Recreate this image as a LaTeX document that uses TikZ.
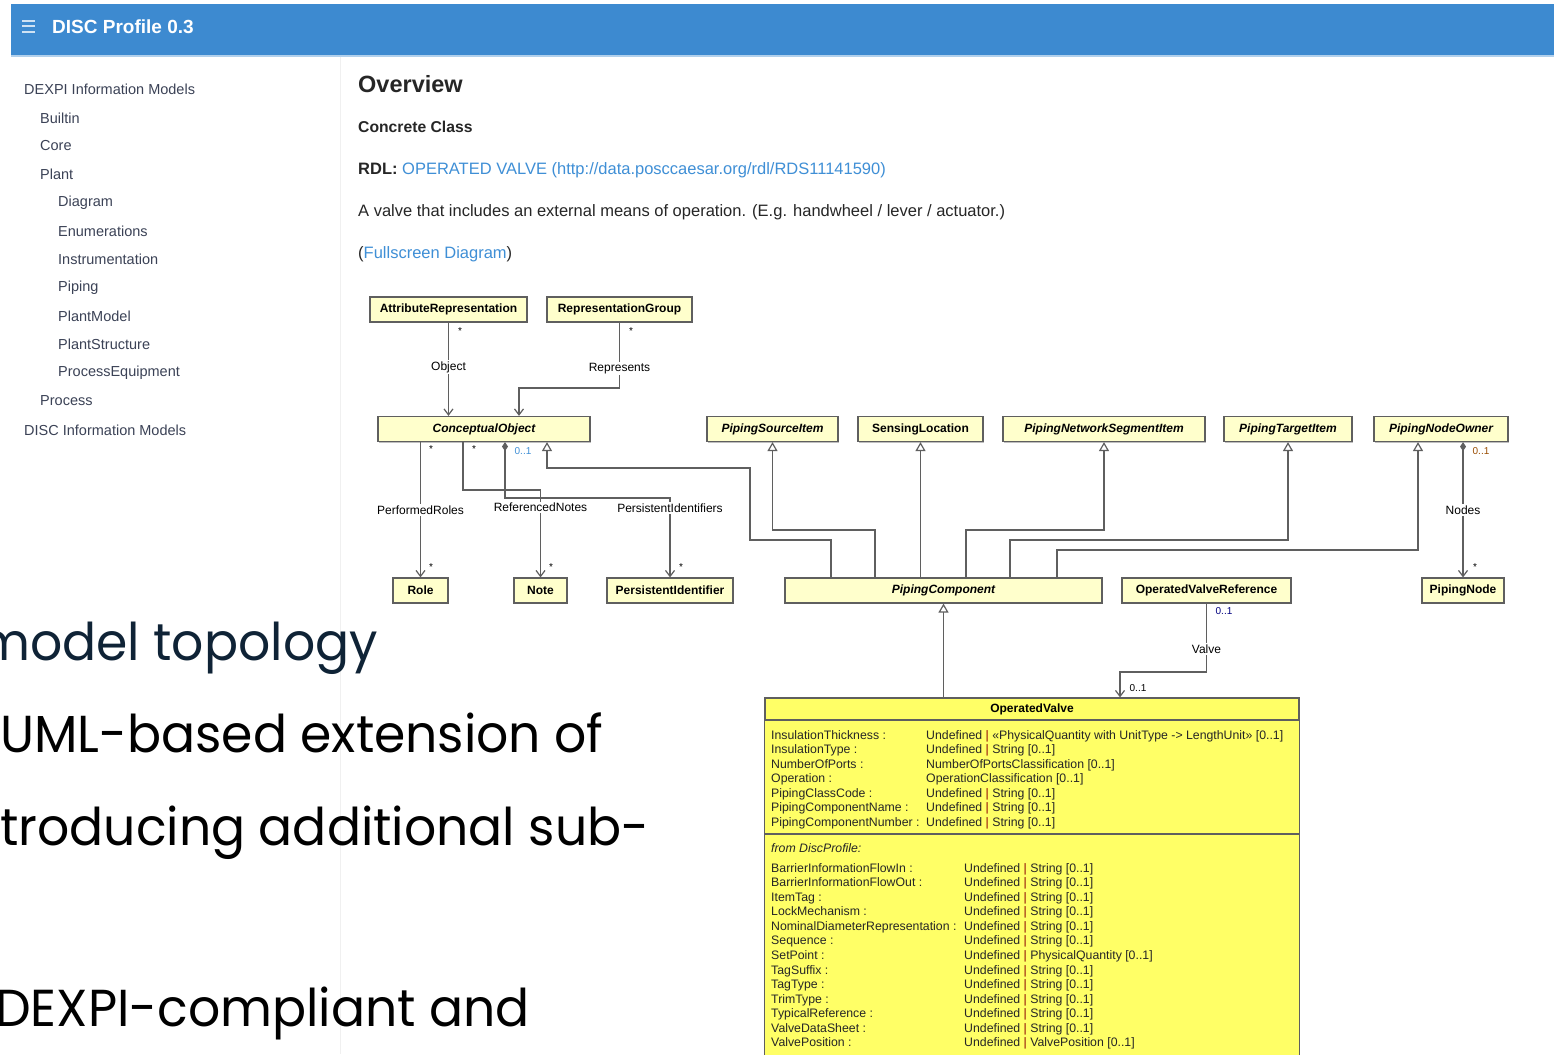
\documentclass[tikz,border=0pt]{standalone}
\usepackage{fontspec}
\setmainfont{Liberation Sans}
\newfontfamily\slidefont[FakeStretch=0.97]{Poppins}
\usetikzlibrary{arrows.meta, calc, shadows}

\definecolor{barblue}{HTML}{3D8AD0}
\definecolor{linkblue}{HTML}{3F8FD6}
\definecolor{navtext}{HTML}{3B4256}
\definecolor{umlpale}{HTML}{FFFFCC}
\definecolor{umlyellow}{HTML}{FFFF66}
\definecolor{umlline}{HTML}{5F5F5F}
\definecolor{slidenavy}{HTML}{0F2336}

\newcommand{\attrsep}{\textcolor{red!55!black}{|}}
\newcommand{\webfont}[1]{\fontsize{#1}{#1}\selectfont}

\tikzset{
  cls/.style={
    draw=umlline,
    fill=umlpale,
    line width=1.2pt,
    minimum height=25pt,
    inner sep=0pt,
    font=\webfont{12}\bfseries,
    drop shadow={shadow xshift=1.3pt, shadow yshift=-1.3pt, fill=black!50}},
  abstract/.style={cls, font=\webfont{12}\bfseries\itshape},
  assoc/.style={draw=umlline, line width=1.2pt, -{Straight Barb[length=6pt,width=9pt]}},
  comp/.style={assoc, {Diamond[length=9pt,width=6pt]}-{Straight Barb[length=6pt,width=9pt]}},
  gen/.style={draw=umlline, line width=1.2pt, -{Triangle[open,length=9pt,width=10pt,fill=white]}},
  rolename/.style={fill=white, inner sep=1.5pt, font=\webfont{12}},
  mult/.style={inner sep=1pt, font=\webfont{10}},
  navitem/.style={anchor=west, inner sep=0pt, text=navtext, font=\webfont{14.5}},
  textline/.style={anchor=west, inner sep=0pt, text=black!85, font=\webfont{16.5}},
  attr/.style={anchor=base west, inner sep=0pt, text=black!85, font=\webfont{12.3}},
  slide/.style={anchor=base west, inner sep=0pt, font=\slidefont\webfont{52}}
}

\begin{document}
\begin{tikzpicture}[x=1pt, y=-1pt]
  \useasboundingbox (0,0) rectangle (1554,1054);
  \fill[white] (0,0) rectangle (1554,1054);

  % top bar
  \fill[barblue] (11,4) rectangle (1554,55);
  \fill[barblue!40!white] (11,55) rectangle (1554,57);
  \foreach \y in {21,26.5,32}
    \draw[white!75!barblue, line width=2pt] (22,\y) -- (35,\y);
  \node[anchor=west, inner sep=0pt, text=white, font=\webfont{19}\bfseries] (title) at (52,27) {DISC Profile 0.3};

  % side navigation
  \draw[black!6, line width=1pt] (340,57) -- (340,1054);
  \node[navitem] (navdexpi) at (24,89) {DEXPI Information Models};
  \node[navitem] (navbuiltin) at (40,118) {Builtin};
  \node[navitem] (navcore) at (40,146) {Core};
  \node[navitem] (navplant) at (40,174) {Plant};
  \node[navitem] (navdiagram) at (58,203) {Diagram};
  \node[navitem] (navenum) at (58,231) {Enumerations};
  \node[navitem] (navinstr) at (58,259) {Instrumentation};
  \node[navitem] (navpiping) at (58,288) {Piping};
  \node[navitem] (navplantmodel) at (58,316) {PlantModel};
  \node[navitem] (navplantstruct) at (58,344) {PlantStructure};
  \node[navitem] (navproceq) at (58,373) {ProcessEquipment};
  \node[navitem] (navprocess) at (40,401) {Process};
  \node[navitem] (navdisc) at (24,430) {DISC Information Models};

  % page text
  \node[textline, font=\webfont{23.5}\bfseries] (overview) at (358,84) {Overview};
  \node[textline, font=\webfont{15.7}\bfseries] (concrete) at (358,127) {Concrete Class};
  \node[textline] (rdl) at (358,170) {\textbf{RDL:} \textcolor{linkblue}{OPERATED VALVE (http://data.posccaesar.org/rdl/RDS11141590)}};
  \node[textline] (descr) at (358,212) {A valve that includes an external means of operation. (E.g. handwheel / lever / actuator.)};
  \node[textline] (fullscreen) at (358,254) {(\textcolor{linkblue}{Fullscreen Diagram})};

  % classes
  \node[cls, minimum width=157pt] (attrrep) at (448.5,309.5) {AttributeRepresentation};
  \node[cls, minimum width=145pt] (repgroup) at (619.5,309.5) {RepresentationGroup};
  \node[abstract, minimum width=212pt] (concobj) at (484,429) {ConceptualObject};
  \node[abstract, minimum width=131pt] (srcitem) at (772.5,429) {PipingSourceItem};
  \node[cls, minimum width=125pt] (sensloc) at (920.5,429) {SensingLocation};
  \node[abstract, minimum width=202pt] (segitem) at (1104,429) {PipingNetworkSegmentItem};
  \node[abstract, minimum width=128pt] (tgtitem) at (1288,429) {PipingTargetItem};
  \node[abstract, minimum width=134pt] (nodeowner) at (1441,429) {PipingNodeOwner};
  \node[cls, minimum width=55pt] (role) at (420.5,590.5) {Role};
  \node[cls, minimum width=53pt] (note) at (540.5,590.5) {Note};
  \node[cls, minimum width=126pt] (persid) at (670,590.5) {PersistentIdentifier};
  \node[abstract, minimum width=317pt] (pipecomp) at (943.5,590.5) {PipingComponent};
  \node[cls, minimum width=169pt] (valveref) at (1206.5,590.5) {OperatedValveReference};
  \node[cls, minimum width=82pt] (pipenode) at (1463,590.5) {PipingNode};

  % OperatedValve with its attributes
  \node[draw=umlline, fill=umlyellow, line width=1.2pt, minimum width=534pt, minimum height=22pt,
    inner sep=0pt, font=\webfont{12}\bfseries] (opvalve) at (1032,709) {OperatedValve};
  \draw[draw=umlline, fill=umlyellow, line width=1.2pt]
    (opvalve.south west) rectangle (opvalve.east |- 0,1075);
  \draw[umlline, line width=1.2pt] (opvalve.west |- 0,834) -- (opvalve.east |- 0,834);
  \foreach \nm/\val [count=\i from 0] in {
      InsulationThickness/{Undefined \attrsep{} «PhysicalQuantity with UnitType -> LengthUnit» [0..1]},
      InsulationType/{Undefined \attrsep{} String [0..1]},
      NumberOfPorts/{NumberOfPortsClassification [0..1]},
      Operation/{OperationClassification [0..1]},
      PipingClassCode/{Undefined \attrsep{} String [0..1]},
      PipingComponentName/{Undefined \attrsep{} String [0..1]},
      PipingComponentNumber/{Undefined \attrsep{} String [0..1]}} {
    \node[attr] (attrA\i) at (771,{739+14.5*\i}) {\nm\ :};
    \node[attr] (valA\i) at (926,{739+14.5*\i}) {\val};
  }
  \node[attr, font=\webfont{12.3}\itshape] (fromdisc) at (771,852) {from DiscProfile:};
  \foreach \nm/\val [count=\i from 0] in {
      BarrierInformationFlowIn/{Undefined \attrsep{} String [0..1]},
      BarrierInformationFlowOut/{Undefined \attrsep{} String [0..1]},
      ItemTag/{Undefined \attrsep{} String [0..1]},
      LockMechanism/{Undefined \attrsep{} String [0..1]},
      NominalDiameterRepresentation/{Undefined \attrsep{} String [0..1]},
      Sequence/{Undefined \attrsep{} String [0..1]},
      SetPoint/{Undefined \attrsep{} PhysicalQuantity [0..1]},
      TagSuffix/{Undefined \attrsep{} String [0..1]},
      TagType/{Undefined \attrsep{} String [0..1]},
      TrimType/{Undefined \attrsep{} String [0..1]},
      TypicalReference/{Undefined \attrsep{} String [0..1]},
      ValveDataSheet/{Undefined \attrsep{} String [0..1]},
      ValvePosition/{Undefined \attrsep{} ValvePosition [0..1]}} {
    \node[attr] (attrB\i) at (771,{872+14.58*\i}) {\nm\ :};
    \node[attr] (valB\i) at (964,{872+14.58*\i}) {\val};
  }

  % associations
  \draw[assoc] (attrrep.south) -- node[rolename, pos=0.48]{Object} (attrrep.south |- concobj.north);
  \draw[assoc] (repgroup.south) |- node[rolename, pos=0.35]{Represents} (519,388) -- (519,0 |- concobj.north);
  \draw[assoc] (role.north |- concobj.south) -- node[rolename]{PerformedRoles} (role.north);
  \draw[assoc] (463,0 |- concobj.south) |- (note.north |- 0,490) -- node[rolename, pos=0.2]{ReferencedNotes} (note.north);
  \draw[comp] (505,0 |- concobj.south) |- (persid.north |- 0,498) -- node[rolename, pos=0.13]{PersistentIdentifiers} (persid.north);
  \draw[comp] (pipenode.north |- nodeowner.south) -- node[rolename]{Nodes} (pipenode.north);
  \draw[assoc] (valveref.south) |- node[rolename, pos=0.33]{Valve} (1120,672) -- (1120,0 |- opvalve.north);

  % generalizations
  \draw[gen] (831,0 |- pipecomp.north) |- (750,540) |- (547,468) -- (547,0 |- concobj.south);
  \draw[gen] (875,0 |- pipecomp.north) |- (srcitem.south |- 0,530) -- (srcitem.south);
  \draw[gen] (sensloc.south |- pipecomp.north) -- (sensloc.south);
  \draw[gen] (966,0 |- pipecomp.north) |- (segitem.south |- 0,530) -- (segitem.south);
  \draw[gen] (1010,0 |- pipecomp.north) |- (tgtitem.south |- 0,540) -- (tgtitem.south);
  \draw[gen] (1057,0 |- pipecomp.north) |- (1418,550) -- (1418,0 |- nodeowner.south);
  \draw[gen] (pipecomp.south |- opvalve.north) -- (pipecomp.south);

  % multiplicities
  \node[mult] (multA) at (460,331) {*};
  \node[mult] (multB) at (631,331) {*};
  \node[mult] (multC) at (431,449) {*};
  \node[mult] (multD) at (474,449) {*};
  \node[mult, text=linkblue] (multE) at (523,451) {0..1};
  \node[mult] (multF) at (431,567) {*};
  \node[mult] (multG) at (551,567) {*};
  \node[mult] (multH) at (681,567) {*};
  \node[mult, text=orange!60!black] (multI) at (1481,451) {0..1};
  \node[mult] (multJ) at (1475,567) {*};
  \node[mult, text=blue!50!black] (multK) at (1224,611) {0..1};
  \node[mult] (multL) at (1138,688) {0..1};

  % slide text on top
  \node[slide, text=slidenavy] (slideA) at (-22,660) {model topology};
  \node[slide, text=black] (slideB) at (0,752) {UML-based extension of};
  \node[slide, text=black] (slideC) at (0,845) {troducing additional sub-};
  \node[slide, text=black] (slideD) at (-5,1026) {DEXPI-compliant and};
\end{tikzpicture}
\end{document}
